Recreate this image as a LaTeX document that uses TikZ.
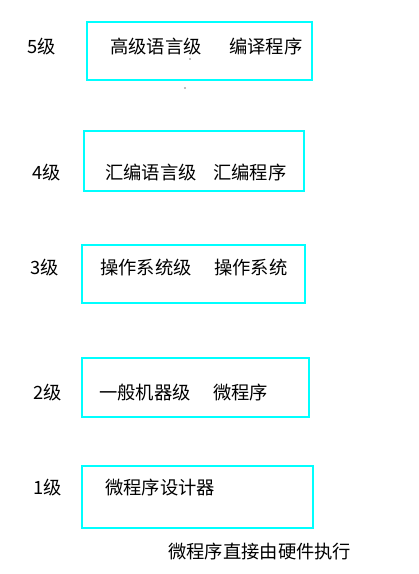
\documentclass[tikz,border=0pt]{standalone}
\usepackage{fontspec}
\setmainfont{Noto Sans CJK SC}
\begin{document}
\begin{tikzpicture}[x=1pt,y=-1pt,
  lvlbox/.style={draw={rgb,255:red,0;green,255;blue,255},line width=2.8pt},
  txt/.style={anchor=west,inner sep=0pt,font=\fontsize{18.3}{21}\selectfont},
  dotm/.style={fill=gray,inner sep=0pt,minimum size=1.6pt,circle}]
\useasboundingbox (0,0) rectangle (419,574);
% boxes
\draw[lvlbox] (87,22) rectangle (312,80);
\draw[lvlbox] (84,131) rectangle (304,191);
\draw[lvlbox] (82,245) rectangle (305,303);
\draw[lvlbox] (82,358) rectangle (309,417);
\draw[lvlbox] (82,466) rectangle (313,528);
% level labels
\node[txt] (l5) at (27,47) {5级};
\node[txt] (l4) at (32,173) {4级};
\node[txt] (l3) at (30,268) {3级};
\node[txt] (l2) at (33,393) {2级};
\node[txt] (l1) at (33,488) {1级};
% box texts
\node[txt] (a5) at (110,47) {高级语言级};
\node[txt] (b5) at (229,47) {编译程序};
\node[txt] (a4) at (105,173) {汇编语言级};
\node[txt] (b4) at (213,173) {汇编程序};
\node[txt] (a3) at (100,268) {操作系统级};
\node[txt] (b3) at (214,268) {操作系统};
\node[txt] (a2) at (99,393) {一般机器级};
\node[txt] (b2) at (213,393) {微程序};
\node[txt] (a1) at (105,488) {微程序设计器};
\node[txt] (n0) at (168,552) {微程序直接由硬件执行};
% stray dots
\node[dotm] (d1) at (190,59) {};
\node[dotm] (d2) at (185,88) {};
\end{tikzpicture}
\end{document}
